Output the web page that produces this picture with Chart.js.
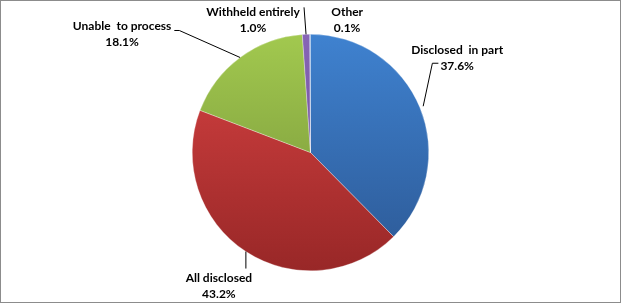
<!DOCTYPE html>
<html>
<head>
<meta charset="utf-8">
<script src="https://cdn.jsdelivr.net/npm/chart.js@4/dist/chart.umd.min.js"></script>
<style>
  html, body { margin: 0; padding: 0; background: #fff; }
  #wrap { width: 619px; height: 301px; border: 1px solid #8c8c8c; position: relative; }
</style>
</head>
<body>
<div id="wrap"><canvas id="pieChart" width="619" height="301"></canvas></div>
<script>
// Data
const categories = ["Disclosed  in part", "All disclosed", "Unable  to process", "Withheld entirely", "Other"];
const shares = [37.6, 43.2, 18.1, 1.0, 0.1];
const valueLabels = ["37.6%", "43.2%", "18.1%", "1.0%", "0.1%"];

// top / bottom colours of each slice gradient
const topColors = ["#3f82d0", "#d84343", "#a2c94f", "#8765b6", "#4a86d0"];
const bottomColors = ["#2c5894", "#982727", "#738f37", "#664990", "#2c5894"];

// label placement relative to slice (dx, dy from the radial anchor) and leader style
const labelOffsets = [
  { r: 1.03, dx: 34, dy: -56, leader: "elbowRight" },
  { r: 1.0, dx: -27, dy: 27, leader: "down" },
  { r: 1.0, dx: -118, dy: -31, leader: "elbowLeft" },
  { r: 1.0, dx: -53, dy: -22, leader: "up" },
  { r: 1.0, dx: 37, dy: -22, leader: "none" }
];

const labelPlugin = {
  id: "outsideLabels",
  afterDatasetsDraw(chart) {
    const ctx = chart.ctx;
    const arcs = chart.getDatasetMeta(0).data;
    ctx.save();
    ctx.font = "bold 12px Lato, 'Open Sans', sans-serif";
    ctx.fillStyle = "#000";
    ctx.strokeStyle = "#000";
    ctx.lineWidth = 1;
    ctx.textAlign = "center";
    ctx.textBaseline = "middle";
    arcs.forEach((arc, i) => {
      const p = arc.getProps(["x", "y", "startAngle", "endAngle", "outerRadius"], true);
      const mid = (p.startAngle + p.endAngle) / 2;
      const o = labelOffsets[i];
      const ax = p.x + Math.cos(mid) * p.outerRadius * o.r;
      const ay = p.y + Math.sin(mid) * p.outerRadius * o.r;
      const tx = ax + o.dx;
      const ty = ay + o.dy;
      const w1 = ctx.measureText(categories[i]).width;
      const w2 = ctx.measureText(valueLabels[i]).width;
      ctx.fillText(categories[i], tx, ty);
      ctx.fillText(valueLabels[i], tx, ty + 16);

      ctx.beginPath();
      if (o.leader === "elbowRight") {
        const ex = tx - w2 / 2 - 2;
        ctx.moveTo(ax, ay);
        ctx.lineTo(ex - 6, ty + 16 - 3);
        ctx.lineTo(ex, ty + 16 - 3);
      } else if (o.leader === "elbowLeft") {
        const ex = tx + w1 / 2 + 3;
        ctx.moveTo(ax, ay);
        ctx.lineTo(ex + 5, ty + 4);
        ctx.lineTo(ex, ty + 4);
      } else if (o.leader === "down") {
        ctx.moveTo(ax, ay);
        ctx.lineTo(ax, ty - 10);
      } else if (o.leader === "up") {
        ctx.moveTo(ax, ay);
        ctx.lineTo(ax - 2, ty - 5);
      }
      ctx.stroke();
    });
    ctx.restore();
  }
};

// vertical gradient over the pie area
function sliceGradient(context) {
  const chart = context.chart;
  const area = chart.chartArea;
  const i = context.dataIndex;
  if (!area) return topColors[i];
  const g = chart.ctx.createLinearGradient(0, area.top, 0, area.bottom);
  g.addColorStop(0, topColors[i]);
  g.addColorStop(1, bottomColors[i]);
  return g;
}

new Chart(document.getElementById("pieChart"), {
  type: "pie",
  data: {
    labels: categories,
    datasets: [{
      data: shares,
      backgroundColor: sliceGradient,
      borderColor: "rgba(255,255,255,0.6)",
      borderWidth: 0.5
    }]
  },
  options: {
    responsive: false,
    animation: false,
    layout: { padding: { top: 32, bottom: 30, left: 191, right: 191 } },
    plugins: {
      legend: { display: false },
      tooltip: { enabled: false }
    }
  },
  plugins: [labelPlugin]
});
</script>
</body>
</html>
